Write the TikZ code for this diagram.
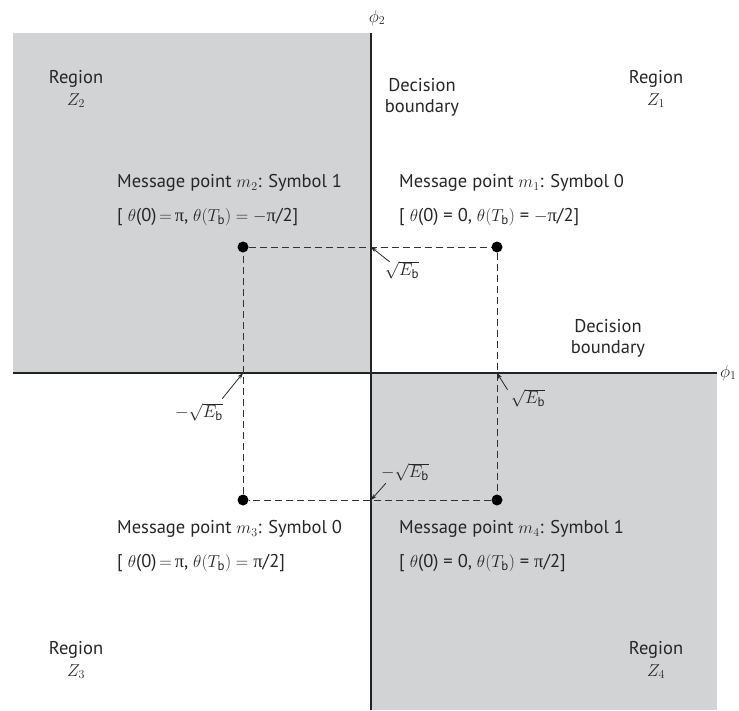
\documentclass[tikz,border=0pt]{standalone}
\usepackage{fontspec}
\setmainfont{PT Sans}
\newfontfamily\serif{Liberation Serif}
\usetikzlibrary{arrows.meta}
\definecolor{regiongray}{RGB}{209,211,212}
\definecolor{axisgray}{RGB}{35,35,35}
\newcommand{\upi}{\mbox{\serif π}}
\begin{document}
\begin{tikzpicture}[x=1pt,y=-1pt,
  txt/.style={font=\fontsize{18.5}{21}\selectfont, inner sep=0pt, text=black!85},
  lbl/.style={txt, anchor=west},
  ctr/.style={txt, align=center},
  axis/.style={draw=axisgray, line width=1.8pt},
  dashline/.style={draw=black!80, line width=0.9pt, dash pattern=on 7pt off 4pt},
  ptr/.style={draw=black!85, line width=0.8pt, -{Stealth[length=6pt,width=4pt]}},
  dot/.style={circle, fill=black, inner sep=0pt, minimum size=11pt}]
\useasboundingbox (0,0) rectangle (739,710);
% regions
\fill[regiongray] (13,33) rectangle (371,373);
\fill[regiongray] (371,373) rectangle (717,710);
% axes
\draw[axis] (13,373) -- (717,373);
\draw[axis] (371,33) -- (371,710);
\node[txt] (phitwo) at (377,18) {$\phi_2$};
\node[txt, anchor=west] (phione) at (720,373) {$\phi_1$};
% message points
\node[dot] (m2) at (243,247) {};
\node[dot] (m1) at (497,247) {};
\node[dot] (m3) at (243,500) {};
\node[dot] (m4) at (497,500) {};
\draw[dashline] (m2) -- (m1) -- (m4) -- (m3) -- (m2);
% intersections
\coordinate (itop) at (371,247);
\coordinate (iright) at (497,373);
\coordinate (ileft) at (243,373);
\coordinate (ibot) at (371,500);
% region labels
\node[ctr] (z2) at (76,89) {Region\\[1pt]$Z_2$};
\node[ctr] (z1) at (656,89) {Region\\[1pt]$Z_1$};
\node[ctr] (z3) at (76,660) {Region\\[1pt]$Z_3$};
\node[ctr] (z4) at (656,660) {Region\\[1pt]$Z_4$};
\node[ctr] (db1) at (422,97) {Decision\\boundary};
\node[ctr] (db2) at (608,338) {Decision\\boundary};
% message labels
\node[lbl] (t2) at (117,183) {Message point $m_2$: Symbol 1};
\node[lbl] (b2) at (117,217) {[ $\theta$(0)$\,=\,$\upi,\ $\theta(T_{\mathrm{b}})=-$\upi/2]};
\node[lbl] (t1) at (399,183) {Message point $m_1$: Symbol 0};
\node[lbl] (b1) at (399,217) {[ $\theta$(0) = 0, $\theta(T_{\mathrm{b}})$ = $-$\upi/2]};
\node[lbl] (t3) at (117,529) {Message point $m_3$: Symbol 0};
\node[lbl] (b3) at (117,563) {[ $\theta$(0)$\,=\,$\upi, $\theta(T_{\mathrm{b}})=$ \upi/2]};
\node[lbl] (t4) at (399,529) {Message point $m_4$: Symbol 1};
\node[lbl] (b4) at (399,563) {[ $\theta$(0) = 0, $\theta(T_{\mathrm{b}})$ = \upi/2]};
% amplitude labels
\node[txt] (ea) at (402,270) {$\sqrt{E_{\mathrm{b}}}$};
\node[txt] (eb) at (528,398) {$\sqrt{E_{\mathrm{b}}}$};
\node[txt] (ec) at (199,412) {$-\sqrt{E_{\mathrm{b}}}$};
\node[txt] (ed) at (405,472) {$-\sqrt{E_{\mathrm{b}}}$};
\draw[ptr] ([shift={(5,1)}]ea.north west) -- (itop);
\draw[ptr] ([shift={(-3,1)}]eb.north west) -- (iright);
\draw[ptr] ([shift={(-1,-4)}]ec.north east) -- (ileft);
\draw[ptr] ([shift={(5,2)}]ed.south west) -- (ibot);
\end{tikzpicture}
\end{document}
